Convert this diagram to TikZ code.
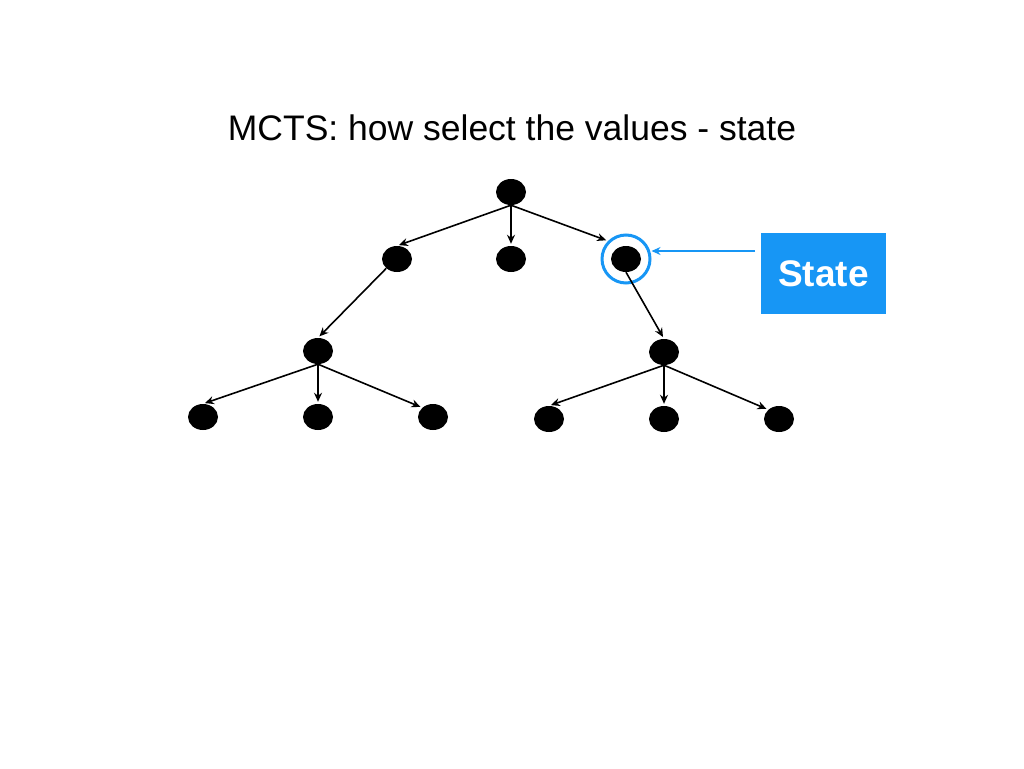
\documentclass[tikz,border=0pt]{standalone}
\usepackage{fontspec}
\setmainfont{Liberation Sans}
\usetikzlibrary{arrows.meta,shapes.geometric}

\definecolor{stateblue}{HTML}{1796F5}

\begin{document}
\begin{tikzpicture}[
    x=1pt, y=-1pt,
    treenode/.style={ellipse, fill=black, minimum width=30pt, minimum height=26pt, inner sep=0pt},
    link/.style={-{Stealth[length=9pt,width=8pt]}, line width=1.6pt, shorten >=2pt},
    hilite/.style={circle, draw=stateblue, line width=3pt, minimum size=48pt, inner sep=0pt},
    statebox/.style={fill=stateblue, text=white, font=\fontsize{37}{40}\selectfont\bfseries, minimum width=125pt, minimum height=81pt, inner sep=0pt},
    pointer/.style={-{Stealth[length=9pt,width=8pt]}, stateblue, line width=1.6pt}
]
\useasboundingbox (0,0) rectangle (1024,768);
\node[font=\fontsize{35.5}{40}\selectfont] (title) at (512,128) {MCTS: how select the values - state};
% level 0 and 1
\node[treenode] (root) at (511,192) {};
\node[treenode] (left) at (397,259) {};
\node[treenode] (mid) at (511,259) {};
\node[treenode] (right) at (626,259) {};
% level 2
\node[treenode] (leftsub) at (318,351) {};
\node[treenode] (rightsub) at (664,352) {};
% leaves
\node[treenode] (la) at (203,417) {};
\node[treenode] (lb) at (318,417) {};
\node[treenode] (lc) at (433,417) {};
\node[treenode] (ra) at (549,419) {};
\node[treenode] (rb) at (664,419) {};
\node[treenode] (rc) at (779,419) {};
% highlight
\node[hilite] (ring) at (right) {};
\node[statebox] (state) at (823.5,273.5) {State};
\coordinate (tail) at (755,251);
\draw[link] (root.south) -- (left.north);
\draw[link] (root.south) -- (mid.north);
\draw[link] (root.south) -- (ring.north west);
\draw[link] (left.south west) -- (leftsub.north);
\draw[link] (right.south) -- (rightsub.north);
\draw[link] (leftsub.south) -- (la.north);
\draw[link] (leftsub.south) -- (lb.north);
\draw[link] (leftsub.south) -- (lc.north west);
\draw[link] (rightsub.south) -- (ra.north);
\draw[link] (rightsub.south) -- (rb.north);
\draw[link] (rightsub.south) -- (rc.north west);
\draw[pointer] (tail) -- (ring.east |- tail);
\end{tikzpicture}
\end{document}
